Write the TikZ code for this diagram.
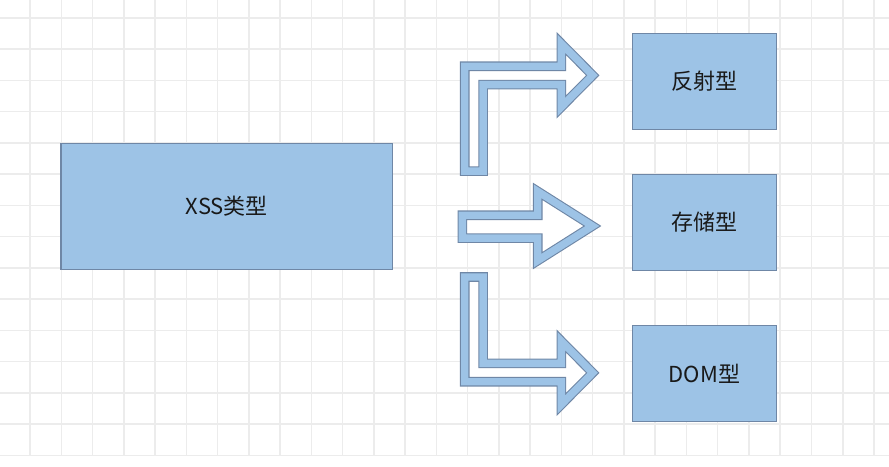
\documentclass[tikz,border=0pt]{standalone}
\usepackage{fontspec}
\setmainfont{Noto Sans CJK SC}
\usetikzlibrary{calc}

\definecolor{boxfill}{HTML}{9DC3E6}
\definecolor{boxline}{HTML}{6F87A6}
\definecolor{gridline}{HTML}{ECECEC}

\begin{document}
\begin{tikzpicture}[x=1pt, y=1pt,
		typebox/.style={minimum width=144.4pt, minimum height=96pt, inner sep=0pt, fill=boxfill, draw=boxline, line width=1.2pt, text=black!90, font=\fontsize{22}{26}\selectfont},
		bandedge/.style={draw=boxline, line width=9.6pt, line join=miter, fill=white},
		bandfill/.style={draw=boxfill, line width=7.4pt, line join=miter}]
		
		\useasboundingbox (0,0) rectangle (889,466);
		
		\foreach \k in {0,...,27} {
			\draw[gridline, line width=1.5pt] ({30+31.26*\k},10) -- ({30+31.26*\k},466);
		}
		\foreach \k in {0,...,14} {
			\draw[gridline, line width=1.5pt] (0,{448-31.25*\k}) -- (889,{448-31.25*\k});
		}
		
		\node (xss) at (226.9,259.7) [typebox, minimum width=331.7pt, minimum height=126pt] {XSS类型};
		
		\node (fs) at (704.5,384.7) [typebox] {反射型};
		\node (cc) [typebox] [below of=fs, node distance=141.2pt] {存储型};
		\node (dom) [typebox] [below of=cc, node distance=151.2pt] {DOM型};
		
		\foreach \s in {bandedge, bandfill} {
			\draw[\s] (464.7,294.9) -- (464.7,399.7) -- (561.3,399.7) -- (561.3,422.4) -- (592.7,390.7) -- (561.3,359) -- (561.3,381.3) -- (483.1,381.3) -- (483.1,294.9) -- cycle;
			\draw[\s] (462.3,250.7) -- (537.7,250.7) -- (537.7,274.6) -- (592.4,240) -- (537.7,205.4) -- (537.7,227.9) -- (462.3,227.9) -- cycle;
			\draw[\s] (464.7,189) -- (464.7,84.2) -- (561.3,84.2) -- (561.3,61.5) -- (592.7,93.2) -- (561.3,124.9) -- (561.3,102.6) -- (483.1,102.6) -- (483.1,189) -- cycle;
		}
		
	\end{tikzpicture}
\end{document}
